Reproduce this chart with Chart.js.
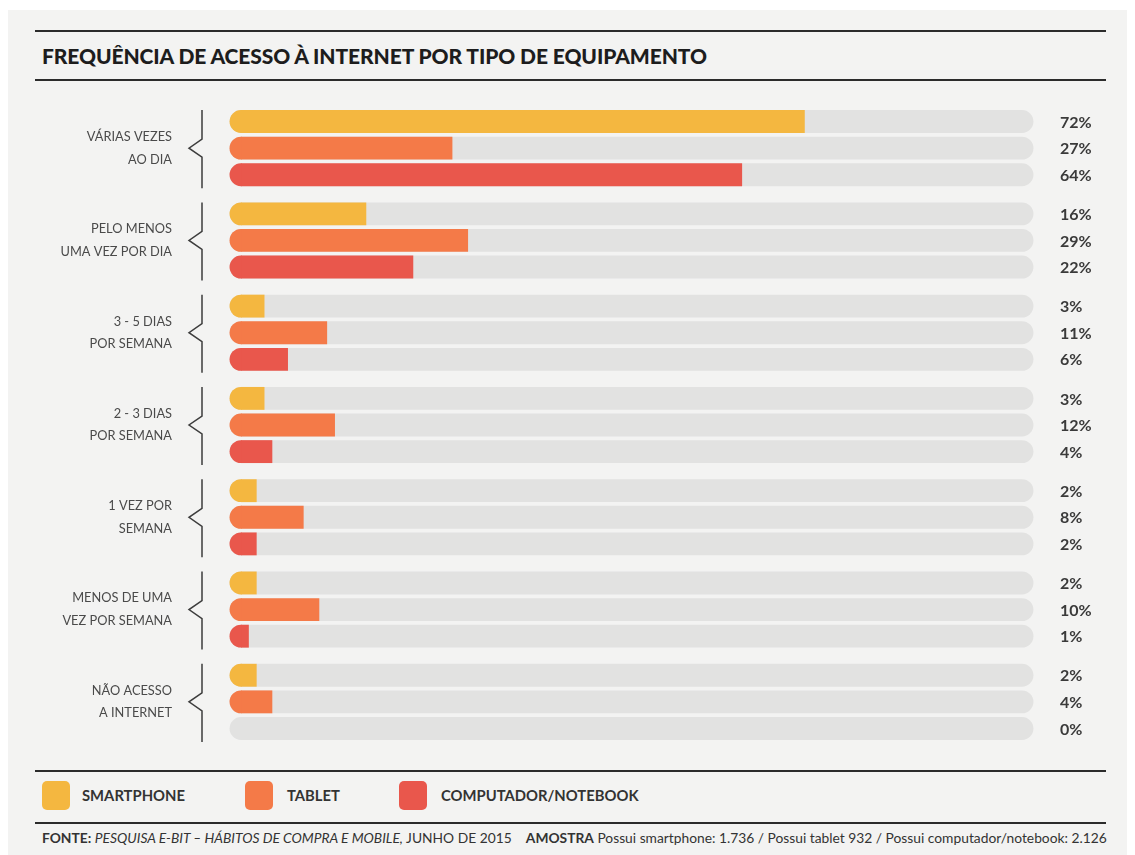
<!DOCTYPE html>
<html><head><meta charset="utf-8">
<script src="https://cdn.jsdelivr.net/npm/chart.js@4.4.0/dist/chart.umd.min.js"></script>
<style>
html,body{margin:0;padding:0;background:#fff;}
#frame{position:absolute;left:8px;top:10px;width:1119px;height:845px;background:#f3f3f2;}
.rule{position:absolute;left:35px;width:1071px;height:2px;background:#2b2b2b;}
#title{position:absolute;left:42px;top:43px;font-family:Lato,sans-serif;font-weight:900;font-size:21px;color:#1d1d1d;white-space:nowrap;letter-spacing:-0.1px;}
#cwrap{position:absolute;left:0;top:90px;width:1135px;height:670px;}
.lg{position:absolute;top:781px;width:28px;height:29px;border-radius:5px;}
.lt{position:absolute;top:786px;font-family:Lato,sans-serif;font-weight:700;font-size:14.8px;color:#333;white-space:nowrap;}
#foot{position:absolute;left:42px;top:829px;font-family:Lato,sans-serif;font-size:13.8px;color:#333;white-space:nowrap;}
</style></head>
<body>
<div id="frame"></div>
<div class="rule" style="top:30px"></div>
<div id="title">FREQUÊNCIA DE ACESSO À INTERNET POR TIPO DE EQUIPAMENTO</div>
<div class="rule" style="top:79px"></div>
<div id="cwrap"><canvas id="c" width="1135" height="670"></canvas></div>
<div class="rule" style="top:770px"></div>
<div class="lg" style="left:42px;background:#f4b740"></div><div class="lt" style="left:82px">SMARTPHONE</div>
<div class="lg" style="left:245px;background:#f47a48"></div><div class="lt" style="left:287px">TABLET</div>
<div class="lg" style="left:399px;background:#e9574c"></div><div class="lt" style="left:441px">COMPUTADOR/NOTEBOOK</div>
<div class="rule" style="top:822px"></div>
<div id="foot"><b>FONTE:</b> <i>PESQUISA E-BIT – HÁBITOS DE COMPRA E MOBILE,</i> JUNHO DE 2015 &nbsp;&nbsp;&nbsp;<b>AMOSTRA</b> Possui smartphone: 1.736 / Possui tablet 932 / Possui computador/notebook: 2.126</div>
<script>
const categories = [
  ["VÁRIAS VEZES","AO DIA"],
  ["PELO MENOS","UMA VEZ POR DIA"],
  ["3 - 5 DIAS","POR SEMANA"],
  ["2 - 3 DIAS","POR SEMANA"],
  ["1 VEZ POR","SEMANA"],
  ["MENOS DE UMA","VEZ POR SEMANA"],
  ["NÃO ACESSO","A INTERNET"]
];
const seriesNames = ["SMARTPHONE","TABLET","COMPUTADOR/NOTEBOOK"];
const smartphone = [72,16,3,3,2,2,2];
const tablet = [27,29,11,12,8,10,4];
const computador = [64,22,6,4,2,1,0];
const colors = ["#f4b740","#f47a48","#e9574c"];
const axisMax = 100;

function rr(ctx,x,y,w,h,r){
  r=Math.min(r,h/2,w/2);
  ctx.beginPath();
  ctx.moveTo(x+r,y);ctx.lineTo(x+w-r,y);ctx.arc(x+w-r,y+r,r,-Math.PI/2,Math.PI/2);
  ctx.lineTo(x+r,y+h);ctx.arc(x+r,y+r,r,Math.PI/2,Math.PI*1.5);ctx.closePath();
}
const trackPlugin = {
  id:'track',
  beforeDatasetsDraw(chart){
    const ctx=chart.ctx, xs=chart.scales.x;
    const x0=xs.getPixelForValue(0), x1=xs.getPixelForValue(axisMax);
    ctx.save();ctx.fillStyle='#e2e2e1';
    chart.data.datasets.forEach((d,i)=>{
      chart.getDatasetMeta(i).data.forEach(el=>{
        const h=el.height; rr(ctx,x0-h/2,el.y-h/2,x1-x0+h-2,h,h/2);ctx.fill();
      });
    });
    ctx.restore();
  },
  afterDatasetsDraw(chart){
    const ctx=chart.ctx, xs=chart.scales.x, ys=chart.scales.y;
    ctx.save();
    chart.data.datasets.forEach((d,i)=>{
      ctx.fillStyle=d.backgroundColor;
      chart.getDatasetMeta(i).data.forEach((el,j)=>{
        if(d.data[j]<=0) return;
        const h=el.height;
        ctx.beginPath();ctx.arc(el.base,el.y,h/2,Math.PI/2,Math.PI*1.5);ctx.lineTo(el.base+0.6,el.y-h/2);ctx.lineTo(el.base+0.6,el.y+h/2);ctx.closePath();ctx.fill();
      });
    });
    ctx.font='bold 16px Lato, sans-serif';ctx.fillStyle='#3a3a3a';ctx.textBaseline='middle';ctx.textAlign='left';
    chart.data.datasets.forEach((d,i)=>{
      chart.getDatasetMeta(i).data.forEach((el,j)=>{
        ctx.fillText(d.data[j]+'%', xs.right+36, el.y+1);
      });
    });
    ctx.strokeStyle='#3d3d3d';ctx.lineWidth=1.5;
    const m0=chart.getDatasetMeta(0).data, m2=chart.getDatasetMeta(2).data;
    categories.forEach((c,j)=>{
      const top=m0[j].y-m0[j].height/2, bot=m2[j].y+m2[j].height/2, mid=ys.getPixelForValue(j);
      const bx=xs.left-39;
      ctx.beginPath();ctx.moveTo(bx,top);ctx.lineTo(bx,mid-9);ctx.lineTo(bx-13,mid);ctx.lineTo(bx,mid+9);ctx.lineTo(bx,bot+2);ctx.stroke();
    });
    ctx.restore();
  }
};
new Chart(document.getElementById('c'),{
  type:'bar',
  data:{labels:categories,datasets:[smartphone,tablet,computador].map((arr,i)=>({
    label:seriesNames[i],data:arr,backgroundColor:colors[i],borderRadius:0,borderSkipped:false,
    categoryPercentage:0.865,barPercentage:0.86
  }))},
  options:{
    indexAxis:'y',responsive:false,animation:false,
    layout:{padding:{left:0,right:111,top:12,bottom:12}},
    plugins:{legend:{display:false},tooltip:{enabled:false}},
    scales:{
      x:{min:0,max:axisMax,display:false},
      y:{grid:{display:false,drawTicks:false},border:{display:false},
        afterFit(s){s.width=241;s.paddingTop=0;s.paddingBottom=0;},
        ticks:{padding:69,color:'#4a4a4a',font:{family:'Lato, sans-serif',size:12.8,lineHeight:1.77}}}
    }
  },
  plugins:[trackPlugin]
});
</script>
</body></html>
